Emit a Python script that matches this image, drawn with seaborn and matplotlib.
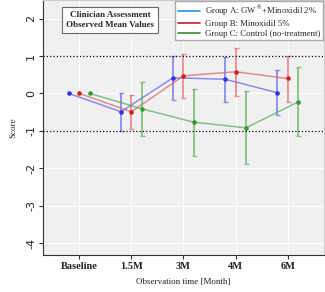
import numpy as np
import pandas as pd
import matplotlib.pyplot as plt
import seaborn as sns

# observation times and group means / error bar limits
times = ['Baseline', '1.5M', '3M', '4M', '6M']
groups = ['Group A: GW$^{\\circledR}$+Minoxidil 2%', 'Group B: Minoxidil 5%',
          'Group C: Control (no-treatment)']

mean_a = [0.0, -0.49, 0.42, 0.38, 0.02]
low_a = [0.0, -1.00, -0.17, -0.22, -0.57]
high_a = [0.0, 0.02, 1.00, 0.98, 0.62]

mean_b = [0.0, -0.49, 0.47, 0.58, 0.40]
low_b = [0.0, -0.95, -0.13, -0.07, -0.22]
high_b = [0.0, -0.05, 1.05, 1.22, 1.00]

mean_c = [0.0, -0.41, -0.77, -0.92, -0.23]
low_c = [0.0, -1.13, -1.67, -1.88, -1.13]
high_c = [0.0, 0.31, 0.13, 0.07, 0.70]

sns.set_style('darkgrid', {'axes.facecolor': '#f0f0f0', 'grid.color': 'white',
                           'axes.edgecolor': '#333333'})
plt.rcParams['font.family'] = ['Liberation Serif', 'DejaVu Serif']

fig = plt.figure(figsize=(3.25, 2.92), dpi=100)
ax = fig.add_axes([0.132, 0.127, 0.865, 0.873])

line_cols = ['#6060ee', '#dd6060', '#5aaa5a']
dot_cols = ['#3333dd', '#d42020', '#2f9a2f']
leg_cols = ['#2a8fe0', '#cc1f2a', '#2e8b2e']
shift = [-0.2, 0.0, 0.2]

rows = []
for g, m, lo, hi in zip(groups, [mean_a, mean_b, mean_c], [low_a, low_b, low_c],
                        [high_a, high_b, high_c]):
    for i, t in enumerate(times):
        rows.append({'group': g, 'time': i, 'score': m[i], 'low': lo[i], 'high': hi[i]})
df = pd.DataFrame(rows)

for k, g in enumerate(groups):
    d = df[df.group == g].copy()
    d['x'] = d['time'] + shift[k]
    sns.lineplot(data=d, x='x', y='score', ax=ax, color=line_cols[k], alpha=0.7,
                 lw=1.1, legend=False)
    e = d[d.time > 0]
    ax.errorbar(e['x'], e['score'], yerr=[e['score'] - e['low'], e['high'] - e['score']],
                fmt='none', ecolor=line_cols[k], alpha=0.65, elinewidth=1.4, capsize=1.8)
    ax.scatter(d['x'], d['score'], color=dot_cols[k], s=11, zorder=5, linewidths=0)
    ax.plot([], [], color=leg_cols[k], lw=1.2, label=g)

ax.axhline(1, color='black', ls=':', lw=0.9)
ax.axhline(-1, color='black', ls=':', lw=0.9)

ax.set_xlim(-0.7, 4.7)
ax.set_ylim(-4.32, 2.5)
ax.set_xticks(range(len(times)))
ax.set_xticklabels(times, fontsize=7.5, fontweight='bold', color='#222222')
ax.set_yticks([-4, -3, -2, -1, 0, 1, 2])
ax.set_yticklabels(['-4', '-3', '-2', '-1', '0', '1', '2'], rotation=90, va='center',
                   fontsize=8, family='DejaVu Sans', color='#222222')
ax.tick_params(axis='both', length=3, width=0.8, color='#333333', pad=2)
ax.tick_params(axis='x', bottom=True)
ax.tick_params(axis='y', left=True)
ax.set_xlabel('Observation time [Month]', fontsize=6.5, color='#222222', labelpad=5)
ax.set_ylabel('Score', fontsize=6.5, color='#222222', labelpad=6)
for s in ['left', 'bottom']:
    ax.spines[s].set_color('#333333')
for s in ['top', 'right']:
    ax.spines[s].set_color('#cccccc')

ax.text(0.24, 0.92, 'Clinician Assessment\nObserved Mean Values', transform=ax.transAxes,
        ha='center', va='center', fontsize=6.5, fontweight='bold', linespacing=1.3,
        bbox=dict(boxstyle='square,pad=0.45', fc='white', ec='#666666', lw=0.8))

leg = ax.legend(loc='upper right', fontsize=6.3, frameon=True, fancybox=False,
                borderaxespad=0.1, handlelength=2.5, labelspacing=0.2,
                borderpad=0.3, handletextpad=0.6)
leg.get_frame().set_edgecolor('#aaaaaa')
leg.get_frame().set_facecolor('white')
leg.get_frame().set_alpha(1)

fig.savefig('out.png', dpi=100)
